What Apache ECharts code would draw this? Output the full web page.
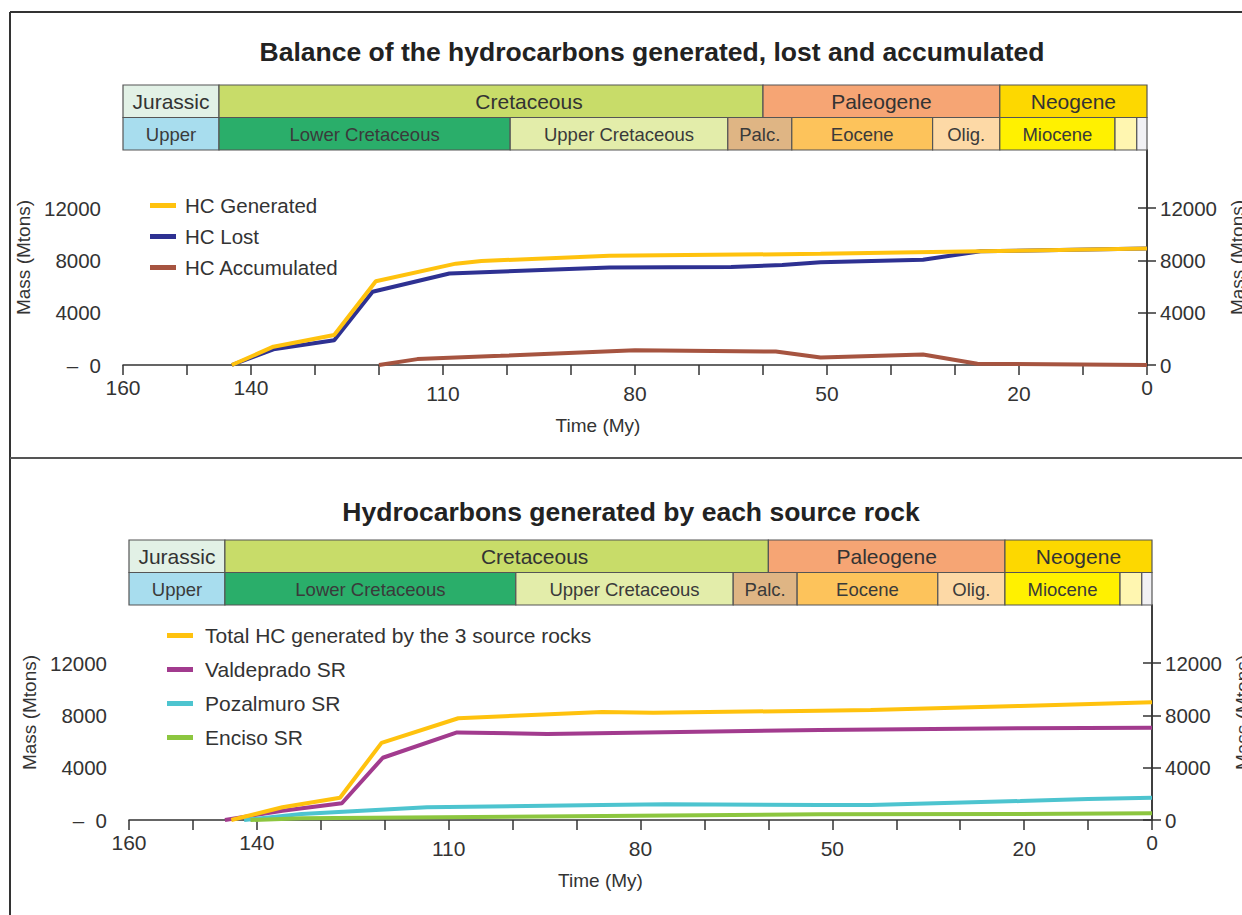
<!DOCTYPE html>
<html><head><meta charset="utf-8">
<script src="https://cdn.jsdelivr.net/npm/echarts@6/dist/echarts.min.js"></script>
<style>html,body{margin:0;padding:0;background:#fff}#c{width:1242px;height:915px}</style>
</head><body><div id="c"></div>
<script>
// ---------- DATA ----------
const xTickLabels = [160, 140, 110, 80, 50, 20, 0];
const yTickLabels = [0, 4000, 8000, 12000];

const topNames = ['HC Generated', 'HC Lost', 'HC Accumulated'];
const hcGenerated = [[143,0],[136.5,1400],[127,2300],[120.5,6400],[108,7750],[104,7950],[84,8350],[51,8500],[26,8700],[0,8900]];
const hcLost = [[143,0],[136.5,1200],[127,1900],[121,5600],[109,7000],[84,7450],[65,7500],[57,7650],[51,7850],[35,8050],[26,8700],[0,8900]];
const hcAccumulated = [[120,0],[114,450],[101,700],[80,1130],[58,1030],[51,580],[35,800],[26.5,100],[0,0]];

const bottomNames = ['Total HC generated by the 3 source rocks', 'Valdeprado SR', 'Pozalmuro SR', 'Enciso SR'];
const totalHC = [[144,0],[136,970],[127,1700],[120.5,5900],[108.5,7780],[86,8260],[78,8200],[52,8360],[44,8410],[20.6,8720],[0,9000]];
const valdeprado = [[145,0],[136,710],[126.7,1280],[120.3,4760],[108.7,6700],[94.6,6580],[52,6880],[20.6,7010],[0,7060]];
const pozalmuro = [[142,0],[133,460],[126.5,640],[113.4,970],[86,1150],[76,1200],[52,1150],[44,1150],[20.6,1450],[10,1600],[0,1700]];
const enciso = [[141,0],[133,130],[52,440],[20.6,460],[0,510]];

const periodNames = ['Jurassic', 'Cretaceous', 'Paleogene', 'Neogene'];
const periodStart = [160, 145, 60, 23];
const periodEnd = [145, 60, 23, 0];
const epochNames = ['Upper', 'Lower Cretaceous', 'Upper Cretaceous', 'Palc.', 'Eocene', 'Olig.', 'Miocene', '', ''];
const epochStart = [160, 145, 99.5, 65.5, 55.5, 33.5, 23, 5, 1.6];
const epochEnd = [145, 99.5, 65.5, 55.5, 33.5, 23, 5, 1.6, 0];

// ---------- STYLE ----------
const periodColors = ['#E2F1E6', '#C8DC69', '#F6A574', '#FDD800'];
const periodLabelShift = [0, 38, 0, 0];
const epochColors = ['#A8DDEE', '#2AAE6A', '#E3EDAA', '#DFB584', '#FDC35B', '#FDD9A6', '#FFF100', '#FFF6B0', '#F1F1F4'];
const topColors = ['#FFC20E', '#2E3192', '#A65440'];
const bottomColors = ['#FFC20E', '#A23B8E', '#4DC4CF', '#8CC63F'];
const FONT = 'Liberation Sans, Arial, Helvetica, sans-serif';
const TXT = '#333';

const chart = echarts.init(document.getElementById('c'), null, {renderer: 'svg'});

const panels = [
  {plot: {left: 123, width: 1024, top: 150, height: 215}, ts: {left: 123, width: 1024, top: 85, height: 65}},
  {plot: {left: 129, width: 1023, top: 605, height: 215}, ts: {left: 129, width: 1023, top: 540, height: 65}}
];
const YMAX = 16440;

const grid = [], xAxis = [], yAxis = [];
panels.forEach(p => {
  grid.push(Object.assign({containLabel: false, outerBoundsMode: 'none'}, p.plot));
  grid.push(Object.assign({containLabel: false, outerBoundsMode: 'none'}, p.ts));
});
function plotX(g, shift) {
  return {
    type: 'value', gridIndex: g, min: 0, max: 160, interval: 10, inverse: true,
    axisLine: {lineStyle: {color: TXT, width: 1.5}},
    axisTick: {length: 10, lineStyle: {color: TXT, width: 1.5}},
    splitLine: {show: false},
    axisLabel: {
      customValues: xTickLabels, margin: 12, fontSize: 21, color: TXT, fontFamily: FONT,
      formatter: v => xTickLabels.indexOf(v) < 0 ? '' : ([110, 80, 50, 20].indexOf(v) >= 0 ? '{d|' + v + '}' : '{u|' + v + '}'),
      rich: {u: {fontSize: 21, color: TXT, fontFamily: FONT}, d: {fontSize: 21, color: TXT, fontFamily: FONT, padding: [6, 0, 0, 0]}}
    },
    name: 'Time (My)', nameLocation: 'middle', nameGap: 51,
    nameTextStyle: {fontSize: 19, color: TXT, fontFamily: FONT, padding: [0, shift, 0, 0]}
  };
}
function plotY(g, pos) {
  return {
    type: 'value', gridIndex: g, min: 0, max: YMAX, position: pos,
    axisLine: {show: true, lineStyle: {color: TXT, width: 1.5}},
    axisTick: {show: true, customValues: yTickLabels, length: 9, lineStyle: {color: TXT, width: 1.5}},
    splitLine: {show: false},
    axisLabel: {
      customValues: yTickLabels, margin: pos === 'left' ? 22 : 13, fontSize: 20.5, color: TXT, fontFamily: FONT,
      formatter: v => (yTickLabels.indexOf(v) < 0 ? '' : (v === 0 && pos === 'left' ? '–  0' : String(v)))
    },
    name: 'Mass (Mtons)', nameLocation: 'middle', nameRotate: 90, nameGap: pos === 'left' ? 84 : 80,
    nameTextStyle: {fontSize: 19, color: TXT, fontFamily: FONT}
  };
}
function tsX(g) {
  return {type: 'value', gridIndex: g, min: 0, max: 160, inverse: true, show: false, splitLine: {show: false}};
}
function tsY(g) {
  return {type: 'value', gridIndex: g, min: 0, max: 2, show: false, splitLine: {show: false}};
}
xAxis.push(plotX(0, 74), tsX(1), plotX(2, 80), tsX(3));
yAxis.push(plotY(0, 'left'), plotY(0, 'right'), tsY(1), plotY(2, 'left'), plotY(2, 'right'), tsY(3));

const tsData = [];
periodNames.forEach((n, i) => tsData.push([periodStart[i], periodEnd[i], 1, i, 0]));
epochNames.forEach((n, i) => tsData.push([epochStart[i], epochEnd[i], 0, i, 1]));

function renderBox(params, api) {
  const s = api.value(0), e = api.value(1), row = api.value(2), idx = api.value(3), kind = api.value(4);
  const p1 = api.coord([s, row + 1]);
  const p2 = api.coord([e, row]);
  const x = Math.min(p1[0], p2[0]), y = Math.min(p1[1], p2[1]);
  const w = Math.abs(p2[0] - p1[0]), h = Math.abs(p2[1] - p1[1]);
  const name = kind === 0 ? periodNames[idx] : epochNames[idx];
  const fill = kind === 0 ? periodColors[idx] : epochColors[idx];
  const shift = kind === 0 ? periodLabelShift[idx] : 0;
  return {
    type: 'rect',
    shape: {x: x, y: y, width: w, height: h},
    style: {fill: fill, stroke: '#555', lineWidth: 1.2},
    textContent: {style: {text: name, fill: kind === 0 ? '#333' : '#3a3a3a', fontSize: kind === 0 ? 21 : 18.5, fontFamily: FONT, align: 'center', verticalAlign: 'middle'}},
    textConfig: {position: 'inside', offset: [shift, 0.5]}
  };
}

function lineSeries(name, data, color, xi, yi, z) {
  return {
    type: 'line', name: name, data: data, xAxisIndex: xi, yAxisIndex: yi,
    showSymbol: false, symbol: 'none', clip: false, z: z,
    lineStyle: {color: color, width: 4}, itemStyle: {color: color}
  };
}

const series = [
  {type: 'custom', xAxisIndex: 1, yAxisIndex: 2, renderItem: renderBox, data: tsData, silent: true},
  {type: 'custom', xAxisIndex: 3, yAxisIndex: 5, renderItem: renderBox, data: tsData, silent: true},
  lineSeries(topNames[0], hcGenerated, topColors[0], 0, 0, 5),
  lineSeries(topNames[1], hcLost, topColors[1], 0, 0, 4),
  lineSeries(topNames[2], hcAccumulated, topColors[2], 0, 0, 4),
  lineSeries(bottomNames[0], totalHC, bottomColors[0], 2, 3, 5),
  lineSeries(bottomNames[1], valdeprado, bottomColors[1], 2, 3, 4),
  lineSeries(bottomNames[2], pozalmuro, bottomColors[2], 2, 3, 4),
  lineSeries(bottomNames[3], enciso, bottomColors[3], 2, 3, 4)
];

const legendCommon = {orient: 'vertical', icon: 'rect', itemWidth: 26, itemHeight: 5, selectedMode: false};

chart.setOption({
  animation: false,
  backgroundColor: '#fff',
  grid: grid, xAxis: xAxis, yAxis: yAxis, series: series,
  legend: [
    Object.assign({data: topNames, left: 145, top: 190, itemGap: 10,
      textStyle: {fontSize: 20.5, color: TXT, fontFamily: FONT, padding: [0, 0, 0, 4]}}, legendCommon),
    Object.assign({data: bottomNames, left: 162, top: 620, itemGap: 13, itemWidth: 28,
      textStyle: {fontSize: 21, color: TXT, fontFamily: FONT, padding: [0, 0, 0, 7]}}, legendCommon)
  ],
  graphic: [
    {type: 'line', shape: {x1: 10, y1: 12, x2: 10, y2: 915}, style: {stroke: '#333', lineWidth: 2}},
    {type: 'line', shape: {x1: 10, y1: 12, x2: 1242, y2: 12}, style: {stroke: '#333', lineWidth: 2}},
    {type: 'line', shape: {x1: 10, y1: 458, x2: 1242, y2: 458}, style: {stroke: '#555', lineWidth: 2}},
    {type: 'text', x: 652, y: 52, style: {text: 'Balance of the hydrocarbons generated, lost and accumulated', fontSize: 26.5, fontWeight: 'bold', fontFamily: FONT, fill: '#222', textAlign: 'center', textVerticalAlign: 'middle'}},
    {type: 'text', x: 631, y: 512, style: {text: 'Hydrocarbons generated by each source rock', fontSize: 26.5, fontWeight: 'bold', fontFamily: FONT, fill: '#222', textAlign: 'center', textVerticalAlign: 'middle'}}
  ]
});
</script>
</body></html>
